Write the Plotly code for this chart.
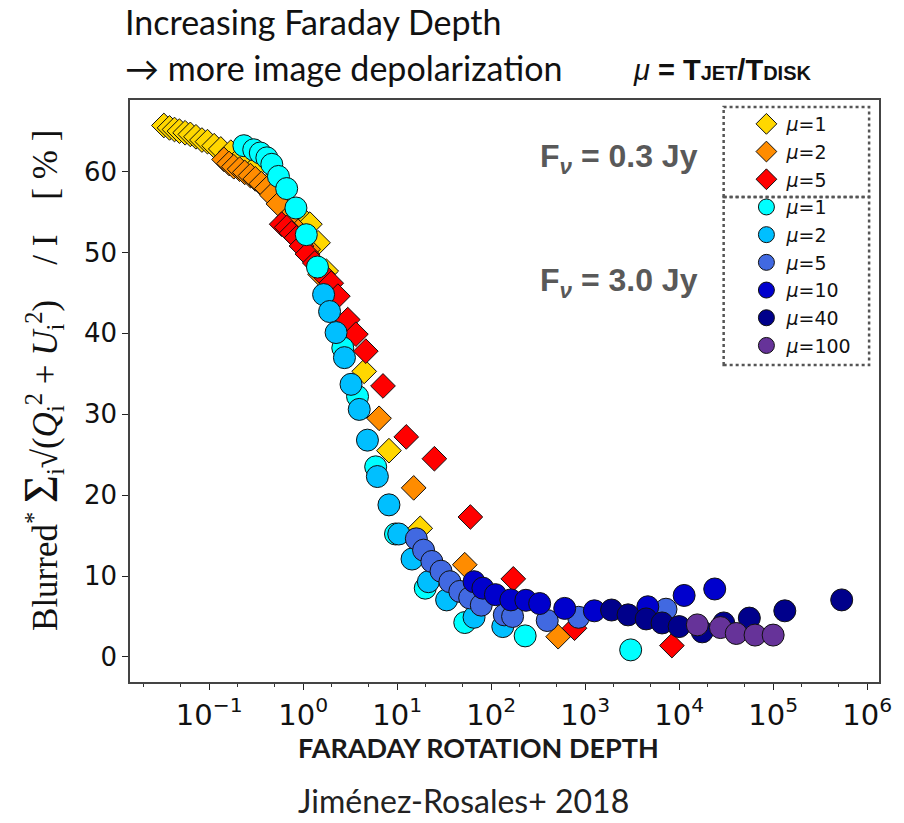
import plotly.graph_objects as go

# Faraday rotation depth (x) and blurred image polarisation fraction in % (y)
# F_nu = 0.3 Jy models (diamonds)
d_mu1_x = [0.0330, 0.0379, 0.0428, 0.0483, 0.0555, 0.0631, 0.0724, 0.0838, 0.0960, 0.113, 0.133,
           0.170, 0.207, 0.298, 0.428, 0.616, 0.885, 1.18, 1.44, 1.76, 4.46, 8.18, 17.6]
d_mu1_y = [65.7, 65.4, 65.2, 65.0, 64.8, 64.6, 64.3, 63.9, 63.7, 63.2, 62.8,
           62.4, 61.5, 60.3, 58.4, 56.6, 54.7, 53.5, 51.2, 47.7, 35.3, 25.5, 15.9]

d_mu2_x = [0.144, 0.163, 0.183, 0.211, 0.239, 0.275, 0.310, 0.359, 0.411, 0.464, 0.546,
           0.695, 0.885, 1.13, 1.51, 2.07, 6.42, 15.0, 52.4, 516]
d_mu2_y = [61.5, 61.0, 60.6, 60.3, 59.9, 59.5, 59.1, 58.5, 57.9, 57.1, 56.0,
           54.3, 52.6, 50.4, 47.3, 44.2, 29.5, 20.9, 11.4, 2.5]

d_mu5_x = [0.591, 0.668, 0.753, 0.85, 0.96, 1.11, 1.33, 1.62, 1.99, 2.34, 2.98, 3.64, 4.64,
           7.07, 12.5, 24.9, 60.1, 172, 771, 8370]
d_mu5_y = [53.5, 53.1, 52.4, 51.8, 50.8, 49.8, 48.7, 47.3, 46.2, 44.6, 41.7, 39.9, 37.8,
           33.5, 27.2, 24.5, 17.3, 9.65, 3.55, 1.4]

# F_nu = 3.0 Jy models (circles)
c_mu1_x = [0.234, 0.298, 0.35, 0.411, 0.464, 0.546, 0.668, 0.838, 1.08, 1.42, 2.64, 3.79,
           5.91, 9.6, 19.9, 52.4, 230, 3050]
c_mu1_y = [63.2, 62.7, 62.3, 61.7, 60.9, 59.4, 57.9, 55.5, 52.2, 48.2, 38.2, 32.2,
           23.5, 15.2, 8.5, 4.25, 2.6, 0.87]

c_mu2_x = [1.65, 1.91, 2.24, 2.75, 3.23, 3.95, 4.83, 6.16, 8.18, 10.4, 14.4, 21.5, 33.6, 65.8, 133]
c_mu2_y = [44.8, 42.7, 40.1, 37.0, 33.7, 30.6, 26.8, 22.3, 18.8, 15.2, 12.1, 9.3, 7.05, 4.9, 3.75]

c_mu5_x = [16.0, 19.1, 23.4, 29.3, 36.4, 46.4, 59.1, 78.5, 138, 169, 395, 851, 7240]
c_mu5_y = [14.6, 13.2, 11.8, 10.6, 9.3, 8.1, 7.3, 6.4, 5.2, 5.0, 4.5, 4.9, 5.9]

c_mu10_x = [65.8, 81.7, 111, 162, 234, 328, 606, 1253, 4640, 11300, 23900]
c_mu10_y = [9.3, 8.5, 7.7, 7.05, 7.0, 6.6, 6.0, 5.7, 6.2, 7.6, 8.4]

c_mu40_x = [1910, 2860, 4460, 6580, 10000, 17600, 29800, 55800, 133000, 536000]
c_mu40_y = [5.8, 5.2, 4.7, 4.2, 3.75, 3.1, 4.2, 4.8, 5.7, 7.05]

c_mu100_x = [15600, 27500, 40500, 64200, 100000]
c_mu100_y = [3.96, 3.63, 2.9, 2.7, 2.7]

# decade ticks on the Faraday-depth axis
x_tick_vals = [0.1, 1, 10, 100, 1000, 1e4, 1e5, 1e6]
x_tick_text = ["10<sup>−1</sup>", "10<sup>0</sup>", "10<sup>1</sup>", "10<sup>2</sup>",
               "10<sup>3</sup>", "10<sup>4</sup>", "10<sup>5</sup>", "10<sup>6</sup>"]

diamond_series = [
    ("μ=1", d_mu1_x, d_mu1_y, "#FFD700"),
    ("μ=2", d_mu2_x, d_mu2_y, "#FF8C00"),
    ("μ=5", d_mu5_x, d_mu5_y, "#FF0000"),
]
circle_series = [
    ("μ=1", c_mu1_x, c_mu1_y, "#00FFFF"),
    ("μ=2", c_mu2_x, c_mu2_y, "#00BFFF"),
    ("μ=5", c_mu5_x, c_mu5_y, "#4169E1"),
    ("μ=10", c_mu10_x, c_mu10_y, "#0000CD"),
    ("μ=40", c_mu40_x, c_mu40_y, "#00008B"),
    ("μ=100", c_mu100_x, c_mu100_y, "#663399"),
]

W, H = 904, 823
L, R, T, B = 130, 17, 100, 141
PW, PH = W - L - R, H - T - B


def px(x):
    return (x - L) / PW


def py(y):
    return (H - B - y) / PH


fig = go.Figure()

for i, (name, xs, ys, col) in enumerate(diamond_series):
    label = "<i>μ</i>" + name[1:]
    fig.add_trace(go.Scatter(
        x=xs, y=ys, mode="markers", name=label, legendgroup=f"d{i}",
        marker=dict(symbol="diamond", size=19, color=col,
                    line=dict(color="#111111", width=1)),
    ))

for i, (name, xs, ys, col) in enumerate(circle_series):
    label = "<i>μ</i>" + name[1:]
    fig.add_trace(go.Scatter(
        x=xs, y=ys, mode="markers", name=label, legendgroup=f"c{i}",
        marker=dict(symbol="circle", size=22, color=col,
                    line=dict(color="#111111", width=1)),
    ))

fig.update_xaxes(
    type="log", range=[-1.842, 6.126],
    tickmode="array", tickvals=x_tick_vals, ticktext=x_tick_text,
    showline=True, linecolor="#444444", linewidth=1.5, mirror=True,
    ticks="outside", ticklen=6, tickwidth=1.2, tickcolor="#222222",
    tickfont=dict(family="DejaVu Sans", size=29, color="#111111"),
    showgrid=False, zeroline=False,
    minor=dict(ticks="outside", ticklen=3, tickwidth=1, tickcolor="#333333", showgrid=False),
)
fig.update_yaxes(
    range=[-3.1, 68.85], tick0=0, dtick=10,
    showline=True, linecolor="#444444", linewidth=1.5, mirror=True,
    ticks="outside", ticklen=6, tickwidth=1.2, tickcolor="#222222",
    tickfont=dict(family="DejaVu Sans", size=26, color="#111111"),
    showgrid=False, zeroline=False,
)

# dotted frames around the two legend groups
box = dict(type="rect", xref="paper", yref="paper",
           line=dict(color="#555555", width=2.5, dash="dot"), layer="above")
fig.add_shape(x0=px(730), x1=px(877), y0=py(197), y1=py(107), **box)
fig.add_shape(x0=px(730), x1=px(877), y0=py(365), y1=py(197), **box)

small = "<span style='font-size:20px'>"
ann = []
ann.append(dict(text="Increasing Faraday Depth", x=px(123), y=py(21), xanchor="left",
                yanchor="middle", font=dict(family="Lato", size=34, color="#111111")))
ann.append(dict(text="→ more image depolarization", x=px(123), y=py(68), xanchor="left",
                yanchor="middle", font=dict(family="Lato", size=34, color="#111111")))
ann.append(dict(text="<i>μ</i> <b>= T" + small + "JET</span>/T" + small + "DISK</span></b>",
                x=px(636), y=py(70), xanchor="left", yanchor="middle",
                font=dict(family="Liberation Sans", size=29, color="#111111")))
ann.append(dict(text="<b>F<sub><i>ν</i></sub> = 0.3 Jy</b>", x=px(706), y=py(158),
                xanchor="right", yanchor="middle",
                font=dict(family="Liberation Sans", size=32, color="#595959")))
ann.append(dict(text="<b>F<sub><i>ν</i></sub> = 3.0 Jy</b>", x=px(706), y=py(282),
                xanchor="right", yanchor="middle",
                font=dict(family="Liberation Sans", size=32, color="#595959")))
ann.append(dict(text="Blurred<sup>*</sup> <span style='font-size:48px'>Σ</span><sub>i</sub>"
                     "√(<i>Q</i><sub>i</sub><sup>2</sup> + <i>U</i><sub>i</sub><sup>2</sup>)"
                     "    / I    [ % ]",
                x=px(40), y=py(380), xanchor="center", yanchor="middle", textangle=-90,
                font=dict(family="Liberation Serif", size=35, color="#111111")))
ann.append(dict(text="<b>FARADAY ROTATION DEPTH</b>", x=px(482), y=py(747),
                xanchor="center", yanchor="middle",
                font=dict(family="Lato", size=27, color="#1a1a1a")))
ann.append(dict(text="Jiménez-Rosales+ 2018", x=px(467), y=py(800),
                xanchor="center", yanchor="middle",
                font=dict(family="Lato", size=32, color="#222222")))
for a in ann:
    a.update(xref="paper", yref="paper", showarrow=False)

fig.update_layout(
    width=W, height=H,
    margin=dict(l=L, r=R, t=T, b=B),
    paper_bgcolor="white", plot_bgcolor="white",
    annotations=ann,
    showlegend=True,
    legend=dict(
        x=px(753), y=py(105), xanchor="left", yanchor="top",
        bgcolor="rgba(0,0,0,0)", borderwidth=0,
        font=dict(family="DejaVu Sans", size=19, color="#111111"),
        tracegroupgap=0, itemsizing="trace",
    ),
)

fig.write_html("out.html")
